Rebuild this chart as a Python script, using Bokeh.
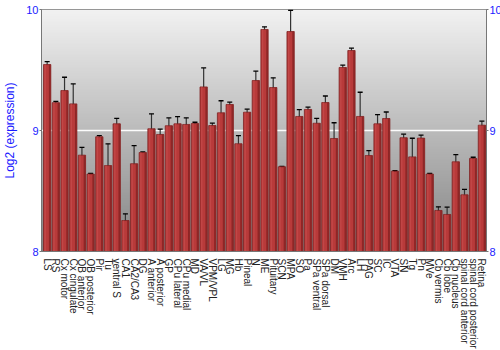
import numpy as np
from bokeh.plotting import figure
from bokeh.models import (ColumnDataSource, Whisker, TeeHead, LinearAxis, FixedTicker,
                          Range1d)
from bokeh.transform import dodge
from bokeh.embed import file_html
from bokeh.resources import INLINE

categories = ["LS", "RS", "Cx motor", "Cx cingulate", "OB anterior", "OB posterior", "Pir", "Tu",
              "ventral S", "CA1", "CA2/CA3", "DG", "A anterior", "A posterior", "GP", "CPu lateral",
              "CPu medial", "MD", "VA/VL", "VPM/VPL", "LG", "MG", "Hb", "Pineal", "N", "ME",
              "Pituitary", "SCN", "MPA", "SO", "Pa", "SPa ventral", "SPa dorsal", "DM", "VMH", "Arc",
              "LH", "PAG", "SC", "IC", "VTA", "SN", "Tg", "Pn", "MVe", "Cb vermis", "Cb lobe",
              "Cb nucleus", "spinal cord anterior", "spinal cord posterior", "Retina"]

expression = [9.545, 9.23, 9.33, 9.22, 8.796, 8.64, 8.948, 8.71,
              9.055, 8.256, 8.725, 8.818, 9.014, 8.967, 9.039, 9.055,
              9.05, 9.058, 9.36, 9.041, 9.146, 9.215, 8.89, 9.151, 9.413, 9.835,
              9.355, 8.70, 9.818, 9.116, 9.174, 9.06, 9.231, 8.934, 9.521, 9.661,
              9.116, 8.793, 9.055, 9.099, 8.664, 8.94, 8.782, 8.937, 8.64, 8.339, 8.306,
              8.741, 8.468, 8.769, 9.044]

error = [0.025, 0.01, 0.11, 0.165, 0.065, 0.005, 0.01, 0.18,
         0.045, 0.055, 0.15, 0.005, 0.124, 0.045, 0.065, 0.06,
         0.055, 0.01, 0.157, 0.02, 0.10, 0.02, 0.067, 0.025, 0.078, 0.022,
         0.08, 0.003, 0.176, 0.056, 0.02, 0.04, 0.054, 0.13, 0.02, 0.02,
         0.20, 0.04, 0.076, 0.054, 0.005, 0.03, 0.154, 0.025, 0.005, 0.03, 0.06,
         0.06, 0.045, 0.01, 0.033]

y_ticks = [8, 9, 10]

idx = list(range(len(categories)))
src = ColumnDataSource(dict(
    x=idx, top=expression,
    upper=[v + e for v, e in zip(expression, error)],
    lower=[v - e for v, e in zip(expression, error)],
))

x0, x1 = -0.65, len(categories) - 0.47
p = figure(frame_width=445, frame_height=242, output_backend="svg", toolbar_location=None,
           x_range=Range1d(x0, x1), y_range=Range1d(8, 10),
           min_border_left=34, min_border_right=21, min_border_top=9, min_border_bottom=99,
           y_axis_location=None)
p.background_fill_color = "white"
p.border_fill_color = "white"
p.outline_line_color = "#777777"

# background gradient (light at top, darker at bottom)
n = 200
t = np.linspace(0, 1, n)[:, None]
g = (0x84 + (0xf2 - 0x84) * t).astype(np.uint32)
img = np.zeros((n, 2), dtype=np.uint32)
view = img.view(dtype=np.uint8).reshape((n, 2, 4))
view[:, :, 0] = g
view[:, :, 1] = g
view[:, :, 2] = g
view[:, :, 3] = 255
p.image_rgba(image=[img], x=x0, y=8, dw=x1 - x0, dh=2, level="image")

# grid line at 9
p.xgrid.visible = False
p.ygrid.ticker = FixedTicker(ticks=[9])
p.ygrid.grid_line_color = "white"
p.ygrid.grid_line_width = 1.5
p.ygrid.grid_line_alpha = 0.95

# bars
p.vbar(x="x", top="top", bottom=8, width=0.84, source=src,
       fill_color="#b83a3a", line_color="#7e2222", line_width=0.8)
p.vbar(x=dodge("x", 0.30, range=p.x_range), top="top", bottom=8, width=0.2, source=src,
       fill_color="#8e2626", line_color=None)
p.vbar(x=dodge("x", -0.22, range=p.x_range), top="top", bottom=8, width=0.16, source=src,
       fill_color="#c85050", line_color=None, fill_alpha=0.6)

# error bars
wh = Whisker(base="x", upper="upper", lower="lower", source=src,
             line_color="#333333", line_width=1.2,
             upper_head=TeeHead(size=5, line_color="black", line_width=1.3),
             lower_head=TeeHead(size=5, line_color="black", line_width=1.3))
p.add_layout(wh)

font = "Liberation Sans"
blue = "#1a1aff"

for side in ("left", "right"):
    ax = LinearAxis(ticker=FixedTicker(ticks=y_ticks))
    ax.major_label_text_color = blue
    ax.major_label_text_font = font
    ax.major_label_text_font_size = "11px"
    ax.major_label_standoff = 1
    ax.minor_tick_line_color = None
    ax.major_tick_in = 0
    ax.major_tick_out = 2
    ax.major_tick_line_color = "#777777"
    ax.axis_line_color = "#777777"
    if side == "left":
        ax.axis_label = "Log2 (expression)"
        ax.axis_label_text_color = blue
        ax.axis_label_text_font = font
        ax.axis_label_text_font_size = "12px"
        ax.axis_label_text_font_style = "normal"
        ax.axis_label_standoff = 6
    p.add_layout(ax, side)

xa = p.xaxis[0]
xa.ticker = FixedTicker(ticks=idx)
xa.major_label_overrides = {i: c for i, c in enumerate(categories)}
xa.major_label_orientation = "vertical"
xa.major_label_text_font = font
xa.major_label_text_font_size = "10px"
xa.major_label_text_color = "#222222"
xa.major_label_standoff = 1
xa.major_tick_line_color = None
xa.minor_tick_line_color = None
xa.axis_line_color = "#777777"

open("out.html", "w").write(file_html(p, INLINE))
